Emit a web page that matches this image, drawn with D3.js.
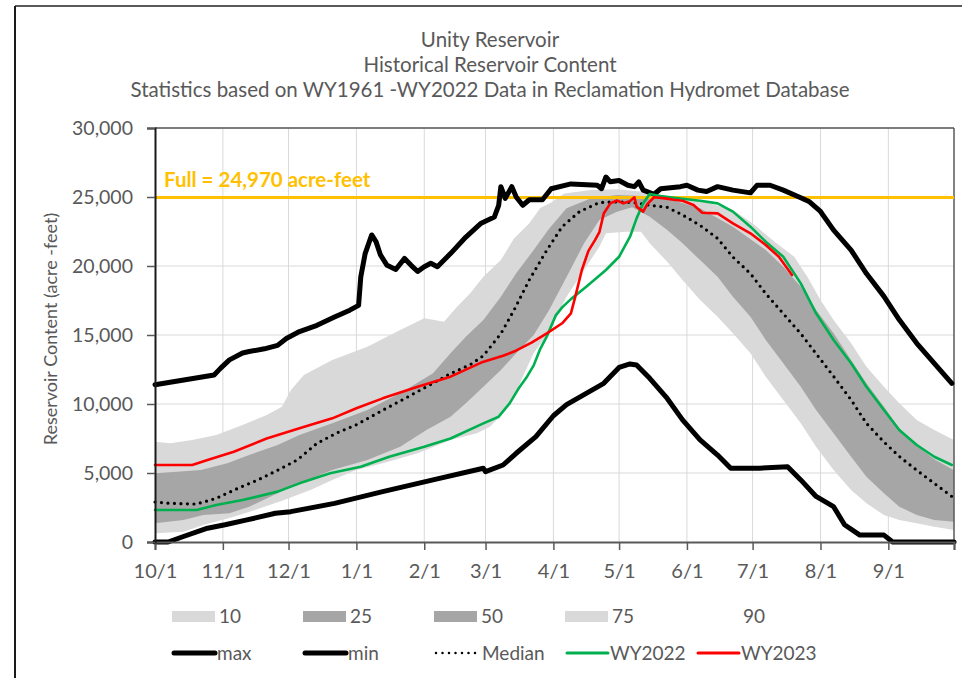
<!DOCTYPE html>
<html>
<head>
<meta charset="utf-8">
<script src="https://cdn.jsdelivr.net/npm/d3@7"></script>
<style>
  html, body { margin: 0; padding: 0; background: #fff; }
  svg { display: block; }
  text { font-family: Lato, "Open Sans", sans-serif; fill: #595959; }
</style>
</head>
<body>
<svg id="chart" width="962" height="678"></svg>
<script>
// ---- Data: day of water year (0 = Oct 1) and content in acre-feet ----
const monthTicks = [0, 31, 61, 92, 123, 151, 182, 212, 243, 273, 304, 335];
const monthLabels = ["10/1", "11/1", "12/1", "1/1", "2/1", "3/1", "4/1", "5/1", "6/1", "7/1", "8/1", "9/1"];
const yTicks = [0, 5000, 10000, 15000, 20000, 25000, 30000];
const fullPool = 24970;

const maxContent = [[0,11400],[27,12100],[30,12600],[34,13200],[40,13700],[43,13800],[50,14000],[56,14250],[60,14750],[66,15250],[74,15700],[82,16300],[89,16800],[93,17150],[94,19200],[96,20900],[99,22250],[101,21750],[103,20800],[106,20050],[110,19750],[114,20550],[117,20050],[120,19600],[123,19950],[126,20200],[129,19950],[135,20900],[142,22100],[149,23100],[155,23550],[157,24400],[158,25750],[160,24900],[163,25750],[165,25000],[168,24400],[171,24800],[177,24800],[181,25600],[190,25950],[202,25850],[204,25600],[206,26450],[208,26100],[212,26200],[216,25850],[219,25750],[221,26100],[223,25500],[228,25200],[231,25600],[240,25750],[243,25850],[248,25500],[252,25400],[257,25750],[264,25500],[272,25300],[275,25850],[281,25850],[287,25500],[295,24950],[299,24650],[304,23950],[310,22600],[318,21150],[325,19450],[333,17800],[340,16100],[348,14400],[356,12950],[364,11500]];

const minContent = [[0,0],[6,0],[13,400],[24,1000],[32,1250],[42,1600],[55,2080],[62,2200],[82,2800],[104,3650],[127,4500],[150,5340],[151,5100],[159,5580],[165,6430],[174,7630],[182,9150],[188,9950],[197,10770],[205,11500],[212,12650],[217,12900],[220,12830],[226,11860],[234,10400],[241,8850],[249,7400],[257,6300],[263,5350],[276,5350],[289,5460],[295,4500],[302,3300],[310,2560],[315,1250],[322,500],[333,500],[337,0],[365,0]];

const medianContent = [[0,2900],[7,2800],[19,2750],[28,3170],[38,3900],[47,4500],[56,5200],[65,5950],[74,7150],[83,7900],[92,8500],[104,9550],[113,10300],[124,11250],[135,12200],[144,12850],[150,13500],[158,15100],[164,16800],[171,19000],[179,21150],[186,22850],[194,23950],[203,24600],[211,24650],[219,24600],[226,24400],[234,24250],[241,23700],[249,22950],[257,22000],[264,20650],[272,19450],[279,18000],[287,16550],[295,15100],[302,13650],[310,12000],[318,10300],[325,8600],[333,7250],[340,6200],[348,5200],[356,4250],[364,3300]];

const wy2022 = [[0,2320],[19,2320],[28,2680],[40,3040],[56,3650],[66,4250],[80,4980],[94,5460],[107,6180],[123,6900],[135,7500],[150,8600],[157,9080],[162,10050],[166,11100],[170,12000],[173,12800],[176,14000],[179,14900],[183,16400],[186,17000],[190,17600],[197,18500],[206,19710],[212,20670],[217,22120],[220,23450],[223,24540],[226,25220],[231,25070],[237,24950],[249,24730],[257,24540],[264,23940],[272,22850],[279,21760],[287,20670],[295,18740],[302,16570],[310,14640],[318,12950],[325,11250],[333,9570],[340,8120],[348,7030],[356,6180],[364,5580]];

const wy2023 = [[0,5580],[17,5580],[24,5940],[36,6540],[51,7500],[66,8240],[81,8960],[92,9690],[104,10410],[120,11250],[135,11980],[149,13000],[159,13500],[164,13800],[172,14450],[179,15120],[186,15850],[190,16570],[192,17780],[195,19710],[198,21100],[201,21880],[203,22450],[205,23800],[208,24540],[211,24750],[214,24540],[217,24700],[219,24980],[220,24300],[223,23940],[225,24500],[228,24980],[233,24900],[237,24800],[241,24730],[246,24420],[250,23860],[257,23810],[264,23090],[272,22370],[279,21520],[285,20670],[291,19350]];

const p90 = [[0,7270],[7,7150],[17,7390],[28,7750],[40,8480],[51,9200],[58,9800],[62,11000],[68,12100],[81,13190],[97,14150],[112,15360],[123,16210],[132,15960],[138,17050],[144,18020],[150,19220],[158,20430],[164,22000],[171,23090],[176,24200],[181,24600],[187,25250],[199,25510],[211,25560],[223,25380],[234,25020],[249,24730],[264,24060],[273,23090],[282,21880],[292,20670],[298,19220],[304,17540],[310,16090],[318,14400],[325,12700],[333,11250],[340,10050],[348,8840],[356,8120],[365,7390]];

const p75 = [[0,4980],[10,5090],[21,5220],[33,5700],[43,6300],[56,7030],[66,7750],[81,8600],[97,9570],[112,10770],[127,12220],[135,13670],[142,14880],[150,16090],[158,17780],[165,19470],[173,21160],[180,22700],[188,24180],[199,24900],[211,25140],[223,25070],[234,24900],[249,24180],[264,22850],[279,21160],[287,19950],[295,18500],[302,16810],[310,15120],[318,13190],[325,11500],[333,9800],[340,8240],[348,7000],[356,6000],[365,5200]];

const p25 = [[0,1350],[13,1590],[22,1960],[34,2080],[43,2560],[56,3530],[66,4250],[81,5220],[97,5940],[112,6910],[124,8120],[135,9080],[142,10050],[150,11250],[158,12460],[165,13670],[173,15000],[180,16800],[188,19200],[196,21640],[203,23330],[211,23940],[218,24250],[226,23570],[234,22610],[241,21640],[249,20430],[257,19220],[264,17780],[272,16330],[279,14640],[287,12950],[295,11250],[302,9570],[310,7880],[318,6180],[325,4730],[333,3530],[340,2560],[348,1960],[356,1590],[365,1470]];

const p10 = [[0,630],[13,750],[22,1230],[36,1830],[48,2440],[59,3040],[71,3770],[81,4490],[92,5220],[104,5700],[120,6430],[135,7390],[147,7880],[153,8350],[159,9330],[164,10530],[168,11980],[173,13700],[180,15200],[188,17780],[196,19710],[203,21400],[206,22370],[215,22490],[222,22490],[226,21640],[234,20310],[241,18980],[249,17540],[257,16330],[264,15120],[272,13670],[279,11980],[287,10290],[295,8600],[302,6910],[310,5220],[318,3770],[325,2800],[333,1960],[340,1590],[348,1350],[356,1110],[365,870]];

const legendBands = ["10", "25", "50", "75", "90"];
const legendLines = ["max", "min", "Median", "WY2022", "WY2023"];

// ---- Layout ----
const svg = d3.select("#chart");
const plot = { left: 155, right: 954, top: 128, bottom: 542 };

const x = d3.scaleLinear().domain([0, 365]).range([plot.left, plot.right]);
const y = d3.scaleLinear().domain([0, 30000]).range([plot.bottom, plot.top]);

const colors = {
  light: "#d9d9d9", dark: "#a6a6a6", full: "#ffc000",
  wy2022: "#00b050", wy2023: "#ff0000", text: "#595959", grid: "#d9d9d9"
};

// Outer chart frame
svg.append("line").attr("x1", 15).attr("x2", 962).attr("y1", 6).attr("y2", 6)
  .attr("stroke", "#595959").attr("stroke-width", 2);
svg.append("line").attr("x1", 15).attr("x2", 15).attr("y1", 6).attr("y2", 678)
  .attr("stroke", "#1a1a1a").attr("stroke-width", 2);

// Titles
const titles = ["Unity Reservoir", "Historical Reservoir Content",
  "Statistics based on WY1961 -WY2022 Data in Reclamation Hydromet Database"];
svg.append("g").selectAll("text").data(titles).join("text")
  .attr("x", 490).attr("y", (d, i) => 47 + i * 25)
  .attr("text-anchor", "middle").attr("font-size", 20.5).text(d => d);

// Gridlines
const g = svg.append("g");
g.selectAll("line.vg").data(monthTicks.slice(1)).join("line").attr("class", "vg")
  .attr("x1", d => x(d)).attr("x2", d => x(d)).attr("y1", plot.top).attr("y2", plot.bottom)
  .attr("stroke", colors.grid).attr("stroke-width", 1);
g.selectAll("line.hg").data(yTicks.slice(1)).join("line").attr("class", "hg")
  .attr("x1", plot.left).attr("x2", plot.right).attr("y1", d => y(d)).attr("y2", d => y(d))
  .attr("stroke", colors.grid).attr("stroke-width", 1);

// Percentile bands: upper edge forward, lower edge backward
const pathOf = d3.line().x(d => x(d[0])).y(d => y(d[1]));
function band(upper, lower, fill) {
  const pts = upper.concat(lower.slice().reverse());
  g.append("path").attr("d", pathOf(pts) + "Z").attr("fill", fill).attr("stroke", "none");
}
band(p90, p10, colors.light);
band(p75, p25, colors.dark);

// Plot frame
g.append("line").attr("x1", plot.left).attr("x2", plot.right).attr("y1", plot.top).attr("y2", plot.top)
  .attr("stroke", "#595959").attr("stroke-width", 1.5);
g.append("line").attr("x1", plot.right).attr("x2", plot.right).attr("y1", plot.top).attr("y2", plot.bottom)
  .attr("stroke", "#595959").attr("stroke-width", 1.5);

// Full pool line and label
g.append("line").attr("x1", plot.left).attr("x2", plot.right)
  .attr("y1", y(fullPool)).attr("y2", y(fullPool))
  .attr("stroke", colors.full).attr("stroke-width", 3);
svg.append("text").attr("x", 164).attr("y", 187)
  .attr("font-size", 20.5).attr("font-weight", "bold")
  .style("fill", colors.full).text("Full = 24,970 acre-feet");

// Series lines
function drawLine(data, stroke, width, dash) {
  const p = g.append("path").attr("d", pathOf(data))
    .attr("fill", "none").attr("stroke", stroke).attr("stroke-width", width)
    .attr("stroke-linejoin", "round").attr("stroke-linecap", "round");
  if (dash) p.attr("stroke-dasharray", dash);
  return p;
}
drawLine(maxContent, "#000", 5);
drawLine(minContent, "#000", 5);
drawLine(medianContent, "#000", 3.2, "0,6.5");
drawLine(wy2022, colors.wy2022, 2.6);
drawLine(wy2023, colors.wy2023, 2.6);

// Axes
const xAxis = d3.axisBottom(x).tickValues(monthTicks.concat([365]))
  .tickFormat((d, i) => monthLabels[i] || "").tickSize(8).tickPadding(14);
const gx = svg.append("g").attr("transform", `translate(0,${plot.bottom})`).call(xAxis);
gx.select(".domain").attr("stroke", "#595959").attr("stroke-width", 2);
gx.selectAll(".tick line").attr("stroke", "#595959").attr("stroke-width", 1.5);
gx.selectAll(".tick text").attr("font-size", 20).attr("font-family", "Lato, sans-serif").style("fill", colors.text);

const yAxis = d3.axisLeft(y).tickValues(yTicks).tickFormat(d3.format(",")).tickSize(8).tickPadding(14);
const gy = svg.append("g").attr("transform", `translate(${plot.left},0)`).call(yAxis);
gy.select(".domain").attr("stroke", "#1a1a1a").attr("stroke-width", 2);
gy.selectAll(".tick line").attr("stroke", "#595959").attr("stroke-width", 1.5);
gy.selectAll(".tick text").attr("font-size", 19.5).attr("font-family", "Lato, sans-serif").style("fill", colors.text);

svg.append("text").attr("transform", "translate(57,329) rotate(-90)")
  .attr("text-anchor", "middle").attr("font-size", 18)
  .text("Reservoir Content (acre -feet)");

// Legend
const legX = [172, 303, 434, 565, 696];
const bandFill = [colors.light, colors.dark, colors.dark, colors.light, "none"];
const leg = svg.append("g");
legendBands.forEach((lbl, i) => {
  leg.append("rect").attr("x", legX[i]).attr("y", 611).attr("width", 43).attr("height", 11)
    .attr("fill", bandFill[i]);
  leg.append("text").attr("x", legX[i] + 47).attr("y", 623).attr("font-size", 19).text(lbl);
});
const lineStyle = [
  { c: "#000", w: 5 }, { c: "#000", w: 5 }, { c: "#000", w: 2.5, dash: "0,6.5" },
  { c: colors.wy2022, w: 3 }, { c: colors.wy2023, w: 3 }
];
legendLines.forEach((lbl, i) => {
  const s = lineStyle[i];
  const l = leg.append("line").attr("x1", legX[i] + 2).attr("x2", legX[i] + 43)
    .attr("y1", 653).attr("y2", 653).attr("stroke", s.c).attr("stroke-width", s.w)
    .attr("stroke-linecap", "round");
  if (s.dash) l.attr("stroke-dasharray", s.dash);
  leg.append("text").attr("x", legX[i] + (i === 2 ? 48 : 45)).attr("y", 660).attr("font-size", 19).text(lbl);
});
</script>
</body>
</html>
